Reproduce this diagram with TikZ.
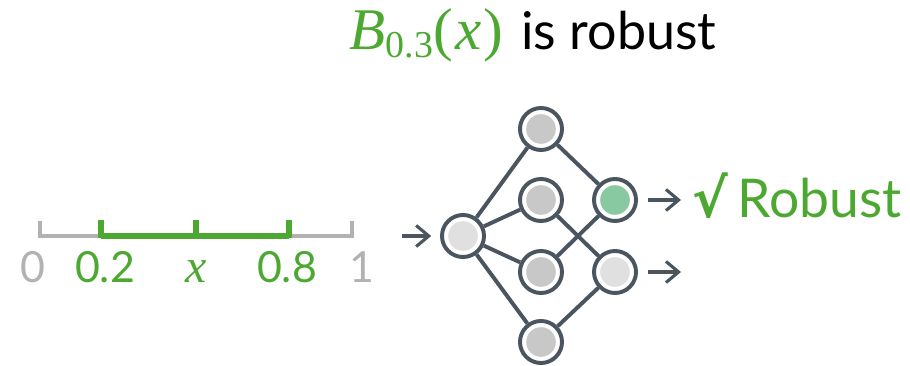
\documentclass[tikz,border=0pt]{standalone}
\usepackage{fontspec}
\setmainfont{Lato}
\newfontfamily\checkfont{DejaVu Sans}
\newfontfamily\mathserif{Liberation Serif}
\usetikzlibrary{arrows.meta, positioning}
\definecolor{robustgreen}{RGB}{77, 168, 50}
\definecolor{axisgray}{RGB}{178, 178, 178}
\definecolor{netdark}{RGB}{74, 85, 96}
\definecolor{hiddengray}{RGB}{200, 200, 200}
\definecolor{palegray}{RGB}{224, 224, 224}
\definecolor{activegreen}{RGB}{136, 201, 161}

\begin{document}
\begin{tikzpicture}[x=0.025cm, y=-0.025cm,
    neuron/.style={circle, draw=netdark, line width=2.8pt, fill=white,
                   minimum size=1.05cm, inner sep=0pt,
                   path picture={\fill[#1] (path picture bounding box.center) circle (0.37cm);}},
    neuron/.default=hiddengray,
    link/.style={netdark, line width=2.8pt},
    glyph/.style={netdark, line width=2.2pt, -{Straight Barb[length=9pt, width=15pt]}},
    lbl/.style={font=\fontsize{30.5}{32}\selectfont, anchor=base}]
    \useasboundingbox (0,0) rectangle (910,366);

    % Title
    \node[font=\fontsize{37}{40}\selectfont, anchor=base] (title) at (533,50)
        {\textcolor{robustgreen}{\fontsize{42}{44}\selectfont\mathserif{\itshape B}\raisebox{-0.2cm}{\fontsize{27}{27}\selectfont 0.3}(\kern0.04em{\itshape x}\kern0.04em)}\hspace{0.35em}is robust};

    % Input interval
    \draw[axisgray, line width=2.85pt] (40,221) -- (40,236) -- (352,236) -- (352,221);
    \draw[robustgreen, line width=4.5pt] (101,236) -- (289,236);
    \foreach \t in {101,196,289}
        \draw[robustgreen, line width=4.3pt] (\t,220) -- (\t,238);
    \node[lbl, axisgray] (zero) at (33,283) {0};
    \node[lbl, robustgreen] (lower) at (105,283) {0.2};
    \node[lbl, robustgreen, font=\mathserif\fontsize{34}{34}\selectfont\itshape] (point) at (196,283) {x};
    \node[lbl, robustgreen] (upper) at (287,283) {0.8};
    \node[lbl, axisgray] (one) at (362,283) {1};

    % Network
    \node[neuron=palegray] (in) at (463,236) {};
    \node[neuron] (h1) at (541,129) {};
    \node[neuron] (h2) at (541,200) {};
    \node[neuron] (h3) at (541,272) {};
    \node[neuron] (h4) at (541,342) {};
    \node[neuron=activegreen] (o1) at (615,200) {};
    \node[neuron=palegray] (o2) at (615,272) {};
    \foreach \h in {h1,h2,h3,h4}
        \draw[link] (in) -- (\h);
    \draw[link] (h1) -- (o1) (h2) -- (o2) (h3) -- (o1) (h4) -- (o2);

    % Arrows in and out
    \coordinate (instart) at (402,236);
    \coordinate (out1) at (681,200);
    \coordinate (out2) at (681,272);
    \draw[glyph, shorten >=0.22cm] (instart) -- (in);
    \draw[glyph, shorten <=0.25cm] (o1) -- (out1);
    \draw[glyph, shorten <=0.25cm] (o2) -- (out2);

    % Verdict
    \node[robustgreen, anchor=base west, font=\fontsize{38}{40}\selectfont] (verdict) at (688,218)
        {{\checkfont\bfseries √}\,Robust};
\end{tikzpicture}
\end{document}
